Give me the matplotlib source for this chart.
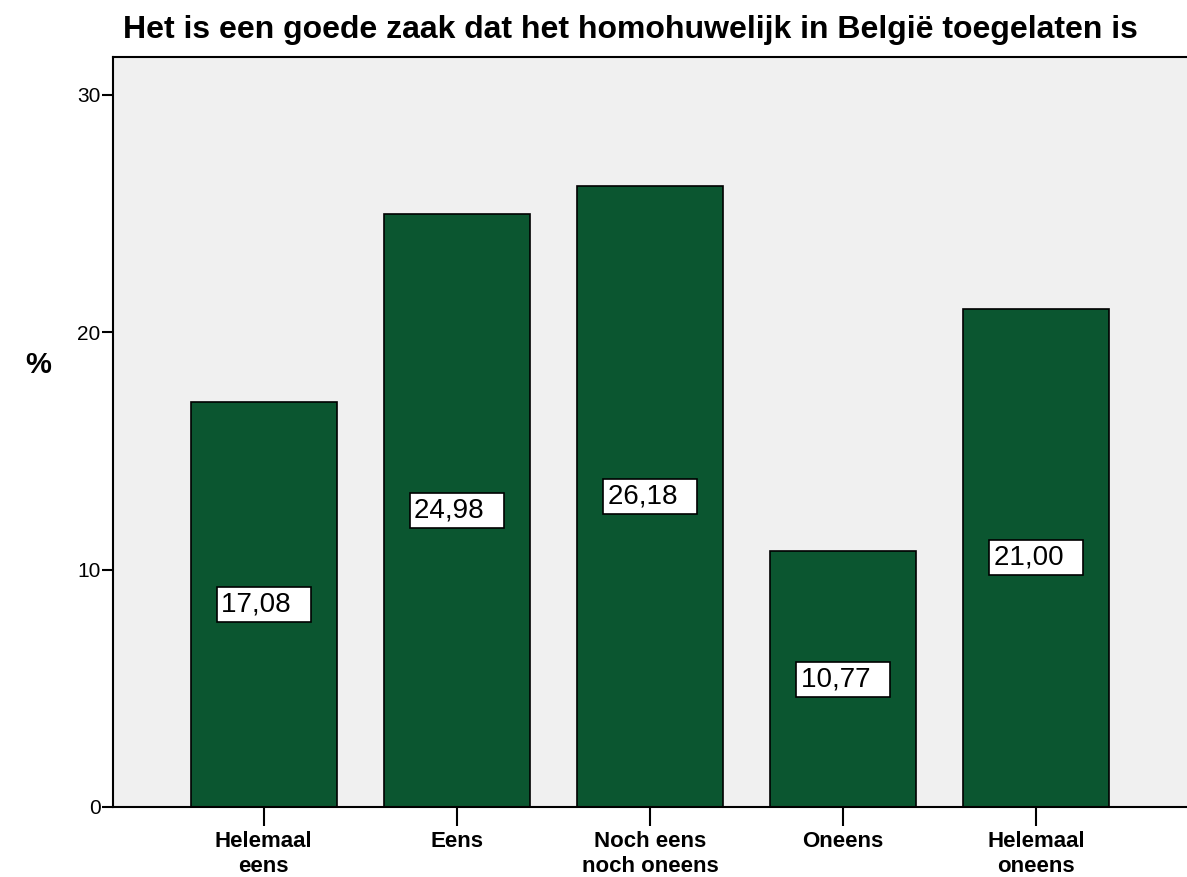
import matplotlib.pyplot as plt

categories = ['Helemaal\neens', 'Eens', 'Noch eens\nnoch oneens', 'Oneens', 'Helemaal\noneens']
percent = [17.08, 24.98, 26.18, 10.77, 21.00]
yticks = [0, 10, 20, 30]

plt.rcParams['font.family'] = ['Liberation Sans', 'DejaVu Sans']

fig = plt.figure(figsize=(11.87, 8.77), dpi=100)
ax = fig.add_axes([113 / 1187, 70 / 877, 1 - 113 / 1187, (807 - 57) / 877])
ax.set_facecolor('#F0F0F0')

x = range(len(categories))
ax.bar(x, percent, width=0.755, color='#0B5630', edgecolor='black', linewidth=1.2, zorder=2)

for xi, v in zip(x, percent):
    ax.text(xi, v / 2, f'{v:.2f}'.replace('.', ',') + '  ', ha='center', va='center', fontsize=20,
            bbox=dict(boxstyle='square,pad=0.16', facecolor='white', edgecolor='black', linewidth=1.2),
            zorder=3)

ax.set_xlim(-0.78, 4.78)
ax.set_ylim(0, 31.6)
ax.set_yticks(yticks)
ax.set_xticks(list(x))
ax.set_xticklabels(categories, fontsize=16, fontweight='bold', linespacing=1.3)
ax.tick_params(axis='y', labelsize=15, length=8, width=1.5, direction='out', pad=1)
ax.tick_params(axis='x', length=14, width=1.5, direction='out', pad=3)

ax.spines['right'].set_visible(False)
for s in ['left', 'bottom', 'top']:
    ax.spines[s].set_linewidth(1.5)

fig.text(38 / 1187, 1 - 365 / 877, '%', fontsize=21, fontweight='bold', ha='center', va='center')
fig.text(630 / 1187, 1 - 30 / 877, 'Het is een goede zaak dat het homohuwelijk in België toegelaten is',
         fontsize=23, fontweight='bold', ha='center', va='center')

fig.savefig('out.png', dpi=100)
